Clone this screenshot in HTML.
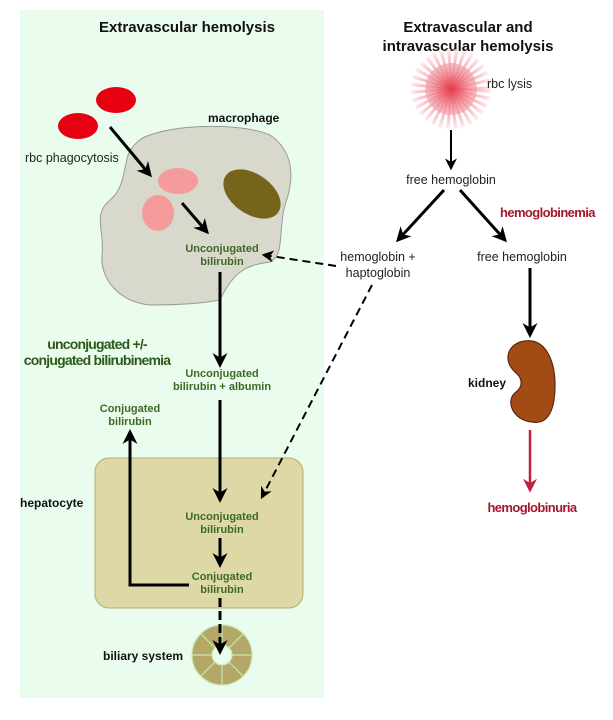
<!DOCTYPE html>
<html><head><meta charset="utf-8"><style>
html,body{margin:0;padding:0;background:#fff;width:613px;height:720px;overflow:hidden}
svg{display:block;font-family:"Liberation Sans",sans-serif}
.g{fill:#3d6a25;font-weight:bold;font-size:11px;text-anchor:middle}
.b{font-weight:bold;font-size:12px;fill:#111}
.t{font-size:12.5px;fill:#222}
</style></head><body>
<svg width="613" height="720" viewBox="0 0 613 720">
<defs>
<marker id="ah" viewBox="0 0 10 10" refX="8" refY="5" markerWidth="15" markerHeight="15" markerUnits="userSpaceOnUse" orient="auto"><path d="M0,0 L10,5 L0,10 L3,5z" fill="#000"/></marker>
<marker id="as" viewBox="0 0 10 10" refX="8" refY="5" markerWidth="12" markerHeight="12" markerUnits="userSpaceOnUse" orient="auto"><path d="M0,0 L10,5 L0,10 L3,5z" fill="#000"/></marker>
<marker id="ar" viewBox="0 0 10 10" refX="8" refY="5" markerWidth="14" markerHeight="14" markerUnits="userSpaceOnUse" orient="auto"><path d="M0,0 L10,5 L0,10 L3,5z" fill="#c0213f"/></marker>
<radialGradient id="sb" gradientUnits="userSpaceOnUse" cx="0" cy="0" r="40"><stop offset="0" stop-color="#e02030"/><stop offset="0.45" stop-color="#f08a95"/><stop offset="1" stop-color="#fde8ea"/></radialGradient>
</defs>
<rect x="20" y="10" width="304" height="688" fill="#eafcee"/>
<text x="187" y="32" text-anchor="middle" style="font-weight:bold;font-size:15px" fill="#111">Extravascular hemolysis</text>
<text x="468" y="32" text-anchor="middle" style="font-weight:bold;font-size:15px" fill="#111">Extravascular and</text>
<text x="468" y="51" text-anchor="middle" style="font-weight:bold;font-size:15px" fill="#111">intravascular hemolysis</text>
<ellipse cx="116" cy="100" rx="20" ry="13" fill="#e60010"/>
<ellipse cx="78" cy="126" rx="20" ry="13" fill="#e60010"/>
<text x="25" y="162" class="t">rbc phagocytosis</text>
<text x="208" y="122" class="b">macrophage</text>
<path d="M150,135 C175,125 240,122 270,135 C292,150 296,175 285,205 C278,230 285,255 270,262 C250,265 235,268 220,300 C205,303 180,305 150,305 C120,302 100,280 102,255 C105,230 92,215 110,200 C128,185 122,160 132,148 C138,140 143,137 150,135Z" fill="#d8d8cc" stroke="#999" stroke-width="1"/>
<ellipse cx="178" cy="181" rx="20" ry="13" fill="#f59b9b"/>
<ellipse cx="158" cy="213" rx="16" ry="18" fill="#f59b9b"/>
<ellipse cx="252" cy="194" rx="32" ry="20" transform="rotate(35 252 194)" fill="#756419"/>
<line x1="110" y1="127" x2="150" y2="175" stroke="#000" stroke-width="3" marker-end="url(#ah)"/>
<line x1="182" y1="203" x2="207" y2="232" stroke="#000" stroke-width="3" marker-end="url(#ah)"/>
<text x="222" y="252" class="g">Unconjugated</text>
<text x="222" y="265" class="g">bilirubin</text>
<line x1="336" y1="266" x2="264" y2="255" stroke="#000" stroke-width="2" stroke-dasharray="8,5" marker-end="url(#as)"/>
<line x1="220" y1="272" x2="220" y2="365" stroke="#000" stroke-width="3" marker-end="url(#ah)"/>
<text x="222" y="377" class="g">Unconjugated</text>
<text x="222" y="390" class="g">bilirubin + albumin</text>
<text x="97" y="349" text-anchor="middle" style="font-weight:bold;font-size:14px;letter-spacing:-0.8px" fill="#2d5a18">unconjugated +/-</text>
<text x="97" y="365" text-anchor="middle" style="font-weight:bold;font-size:14px;letter-spacing:-0.8px" fill="#2d5a18">conjugated bilirubinemia</text>
<rect x="95" y="458" width="208" height="150" rx="14" fill="#ded8a6" stroke="#b8ae70" stroke-width="1"/>
<line x1="220" y1="400" x2="220" y2="500" stroke="#000" stroke-width="3" marker-end="url(#ah)"/>
<text x="20" y="507" class="b">hepatocyte</text>
<text x="222" y="520" class="g">Unconjugated</text>
<text x="222" y="533" class="g">bilirubin</text>
<line x1="220" y1="538" x2="220" y2="565" stroke="#000" stroke-width="3" marker-end="url(#ah)"/>
<text x="222" y="580" class="g">Conjugated</text>
<text x="222" y="593" class="g">bilirubin</text>
<polyline points="189,585 130,585 130,432" fill="none" stroke="#000" stroke-width="3" marker-end="url(#ah)"/>
<text x="130" y="412" class="g">Conjugated</text>
<text x="130" y="425" class="g">bilirubin</text>
<line x1="372" y1="285" x2="262" y2="497" stroke="#000" stroke-width="2" stroke-dasharray="8,5" marker-end="url(#as)"/>
<g stroke="#c8e8b0" stroke-width="1.2" fill="#b3a868">
<circle cx="222" cy="655" r="30"/>
<circle cx="222" cy="655" r="10" fill="#eafcee"/>
<path d="M222,625V645 M243,634L229,648 M252,655H232 M243,676L229,662 M222,685V665 M201,676L215,662 M192,655H212 M201,634L215,648" fill="none"/>
</g>
<line x1="220" y1="598" x2="220" y2="652" stroke="#000" stroke-width="3" stroke-dasharray="9,4" marker-end="url(#ah)"/>
<text x="103" y="660" class="b">biliary system</text>
<g transform="translate(451,89)">
<circle r="20" fill="none" stroke="url(#sb)" stroke-width="40" stroke-dasharray="2,2" opacity="0.85"/>
<circle r="26" fill="url(#sb)" opacity="0.8"/>
</g>
<text x="487" y="88" class="t">rbc lysis</text>
<line x1="451" y1="130" x2="451" y2="168" stroke="#000" stroke-width="2" marker-end="url(#as)"/>
<text x="451" y="184" text-anchor="middle" class="t">free hemoglobin</text>
<line x1="444" y1="190" x2="398" y2="240" stroke="#000" stroke-width="3" marker-end="url(#ah)"/>
<line x1="460" y1="190" x2="505" y2="240" stroke="#000" stroke-width="3" marker-end="url(#ah)"/>
<text x="500" y="217" style="font-weight:bold;font-size:13px;letter-spacing:-0.6px" fill="#a3172b">hemoglobinemia</text>
<text x="378" y="261" text-anchor="middle" class="t">hemoglobin +</text>
<text x="378" y="277" text-anchor="middle" class="t">haptoglobin</text>
<text x="522" y="261" text-anchor="middle" class="t">free hemoglobin</text>
<line x1="530" y1="268" x2="530" y2="335" stroke="#000" stroke-width="3" marker-end="url(#ah)"/>
<path d="M525,341 C545,338 555,360 555,385 C555,410 548,425 532,422 C512,420 505,400 516,392 C523,387 523,378 515,372 C502,360 508,343 525,341Z" fill="#a34b15" stroke="#5a2808" stroke-width="1.2"/>
<text x="468" y="387" class="b">kidney</text>
<line x1="530" y1="430" x2="530" y2="490" stroke="#c0213f" stroke-width="2.5" marker-end="url(#ar)"/>
<text x="532" y="512" text-anchor="middle" style="font-weight:bold;font-size:13px;letter-spacing:-0.6px" fill="#a3172b">hemoglobinuria</text>
</svg>
</body></html>
